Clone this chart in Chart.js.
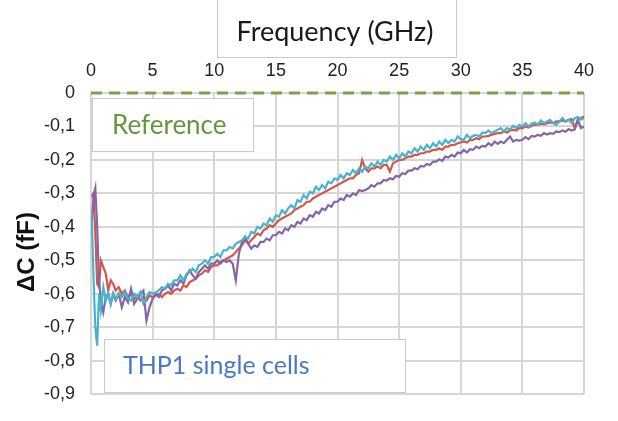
<!DOCTYPE html>
<html>
<head>
<meta charset="utf-8">
<script src="https://cdn.jsdelivr.net/npm/chart.js@4/dist/chart.umd.min.js"></script>
<style>
html,body{margin:0;padding:0;background:#fff;}
#wrap{width:618px;height:421px;position:relative;}
</style>
</head>
<body>
<div id="wrap"><canvas id="c" width="618" height="421"></canvas></div>
<script>
// Frequency (GHz)
const freq = [0.05,0.2,0.35,0.5,0.65,0.8,1.0,1.2,1.4,1.6,1.8,2.0,2.25,2.5,2.75,3.0,3.25,3.5,3.75,4.0,4.25,4.5,4.75,5.0,
  5.25,5.5,5.75,6, 6.25,6.5,6.75,7, 7.25,7.5,7.75,8, 8.25,8.5,8.75,9, 9.25,9.5,9.75,10,
  10.25,10.5,10.75,11, 11.25,11.5,11.75,12, 12.25,12.5,12.75,13, 13.25,13.5,13.75,14, 14.25,14.5,14.75,15,
  15.25,15.5,15.75,16, 16.25,16.5,16.75,17, 17.25,17.5,17.75,18, 18.25,18.5,18.75,19, 19.25,19.5,19.75,20,
  20.25,20.5,20.75,21, 21.25,21.5,21.75,22, 22.25,22.5,22.75,23, 23.25,23.5,23.75,24, 24.25,24.5,24.75,25,
  25.25,25.5,25.75,26, 26.25,26.5,26.75,27, 27.25,27.5,27.75,28, 28.25,28.5,28.75,29, 29.25,29.5,29.75,30,
  30.25,30.5,30.75,31, 31.25,31.5,31.75,32, 32.25,32.5,32.75,33, 33.25,33.5,33.75,34, 34.25,34.5,34.75,35,
  35.25,35.5,35.75,36, 36.25,36.5,36.75,37, 37.25,37.5,37.75,38, 38.25,38.5,38.75,39, 39.25,39.5,39.75,40];

const redSeries = [-0.31,-0.30,-0.42,-0.57,-0.58,-0.50,-0.52,-0.54,-0.59,-0.56,-0.57,-0.59,-0.58,-0.60,-0.59,-0.61,-0.60,-0.615,-0.605,-0.62,-0.61,-0.62,-0.605,-0.61,
  -0.605,-0.60,-0.61,-0.60, -0.595,-0.60,-0.59,-0.585, -0.59,-0.575,-0.58,-0.565, -0.56,-0.555,-0.545,-0.54, -0.53,-0.535,-0.52,-0.515,
  -0.515,-0.505,-0.50,-0.495, -0.49,-0.485,-0.475,-0.465, -0.455,-0.44,-0.45,-0.44, -0.43,-0.42,-0.425,-0.41, -0.405,-0.395,-0.40,-0.39,
  -0.38,-0.375,-0.37,-0.365, -0.36,-0.35,-0.345,-0.34, -0.335,-0.325,-0.325,-0.315, -0.31,-0.305,-0.30,-0.295, -0.29,-0.285,-0.28,-0.275,
  -0.27,-0.265,-0.26,-0.255, -0.255,-0.245,-0.24,-0.20, -0.225,-0.235,-0.225,-0.225, -0.22,-0.225,-0.215,-0.215, -0.235,-0.21,-0.205,-0.20,
  -0.20,-0.195,-0.19,-0.19, -0.185,-0.185,-0.18,-0.18, -0.175,-0.175,-0.17,-0.17, -0.165,-0.17,-0.16,-0.16, -0.155,-0.155,-0.15,-0.148,
  -0.145,-0.148,-0.14,-0.14, -0.135,-0.138,-0.13,-0.13, -0.128,-0.125,-0.122,-0.12, -0.12,-0.115,-0.118,-0.112, -0.11,-0.112,-0.105,-0.105,
  -0.10,-0.103,-0.098,-0.095, -0.095,-0.092,-0.094,-0.09, -0.088,-0.09,-0.085,-0.085, -0.082,-0.085,-0.08,-0.078, -0.105,-0.08,-0.075,-0.07];

const cyanSeries = [-0.36,-0.55,-0.70,-0.755,-0.60,-0.65,-0.58,-0.62,-0.60,-0.63,-0.60,-0.615,-0.60,-0.61,-0.595,-0.615,-0.62,-0.60,-0.61,-0.595,-0.63,-0.61,-0.595,-0.60,
  -0.595,-0.59,-0.58,-0.585, -0.57,-0.575,-0.56,-0.56, -0.545,-0.56,-0.54,-0.535, -0.525,-0.535,-0.515,-0.51, -0.50,-0.51,-0.49,-0.49,
  -0.48,-0.49,-0.47,-0.47, -0.46,-0.465,-0.45,-0.445, -0.44,-0.43,-0.435,-0.415, -0.42,-0.40,-0.405,-0.39, -0.395,-0.375,-0.385,-0.365,
  -0.37,-0.35,-0.36,-0.345, -0.335,-0.345,-0.32,-0.325, -0.305,-0.315,-0.295,-0.30, -0.28,-0.29,-0.275,-0.285, -0.265,-0.27,-0.255,-0.26,
  -0.245,-0.255,-0.24,-0.245, -0.23,-0.24,-0.225,-0.235, -0.22,-0.225,-0.21,-0.22, -0.205,-0.215,-0.20,-0.205, -0.19,-0.20,-0.185,-0.195,
  -0.18,-0.19,-0.175,-0.18, -0.165,-0.175,-0.16,-0.17, -0.155,-0.165,-0.15,-0.16, -0.145,-0.155,-0.14,-0.15, -0.14,-0.145,-0.13,-0.138,
  -0.14,-0.125,-0.135,-0.128, -0.125,-0.13,-0.118,-0.12, -0.112,-0.12,-0.115,-0.11, -0.105,-0.115,-0.105,-0.11, -0.098,-0.105,-0.095,-0.10,
  -0.09,-0.10,-0.092,-0.088, -0.095,-0.082,-0.09,-0.085, -0.08,-0.09,-0.095,-0.085, -0.075,-0.085,-0.08,-0.09, -0.075,-0.072,-0.08,-0.075];

const purpleSeries = [-0.40,-0.31,-0.285,-0.40,-0.56,-0.62,-0.655,-0.61,-0.60,-0.63,-0.60,-0.62,-0.60,-0.64,-0.61,-0.625,-0.585,-0.63,-0.615,-0.60,-0.59,-0.68,-0.64,-0.615,
  -0.60,-0.61,-0.59,-0.585, -0.575,-0.59,-0.57,-0.575, -0.56,-0.57,-0.545,-0.53, -0.545,-0.555,-0.535,-0.525, -0.515,-0.525,-0.51,-0.51,
  -0.50,-0.51,-0.50,-0.505, -0.50,-0.51,-0.56,-0.48, -0.445,-0.43,-0.45,-0.465, -0.455,-0.46,-0.445,-0.445, -0.435,-0.44,-0.425,-0.425,
  -0.415,-0.42,-0.405,-0.41, -0.395,-0.40,-0.385,-0.39, -0.375,-0.38,-0.365,-0.37, -0.355,-0.36,-0.345,-0.35, -0.335,-0.34,-0.325,-0.325,
  -0.315,-0.32,-0.305,-0.31, -0.30,-0.305,-0.29,-0.293, -0.29,-0.285,-0.275,-0.28, -0.27,-0.27,-0.26,-0.262, -0.255,-0.258,-0.248,-0.25,
  -0.24,-0.242,-0.232,-0.232, -0.225,-0.228,-0.218,-0.22, -0.212,-0.215,-0.205,-0.205, -0.198,-0.203,-0.19,-0.193, -0.185,-0.19,-0.178,-0.18,
  -0.17,-0.178,-0.168,-0.17, -0.16,-0.165,-0.158,-0.16, -0.15,-0.157,-0.145,-0.152, -0.145,-0.15,-0.14,-0.13, -0.145,-0.14,-0.142,-0.14,
  -0.132,-0.138,-0.128,-0.13, -0.125,-0.128,-0.12,-0.124, -0.12,-0.122,-0.115,-0.117, -0.112,-0.116,-0.108,-0.112, -0.108,-0.08,-0.105,-0.10];

const referenceX = [0, 40];
const referenceY = [0, 0];

const xTicks = [0,5,10,15,20,25,30,35,40];
const yTicks = [0,-0.1,-0.2,-0.3,-0.4,-0.5,-0.6,-0.7,-0.8,-0.9];

const titleText = 'Frequency (GHz)';
const yTitleText = '\u0394C (fF)';
const refLabel = 'Reference';
const cellLabel = 'THP1 single cells';

const toPts = (xs, ys) => xs.map((x, i) => ({x: x, y: ys[i]}));

const annot = {
  id: 'annot',
  afterDraw(chart) {
    const ctx = chart.ctx;
    ctx.save();
    function box(x, y, w, h) {
      ctx.fillStyle = '#ffffff';
      ctx.fillRect(x, y, w, h);
      ctx.strokeStyle = '#c9c9c9';
      ctx.lineWidth = 1;
      ctx.strokeRect(x + 0.5, y + 0.5, w, h);
    }
    // title box
    box(217, -2, 239, 59);
    ctx.fillStyle = '#1a1a1a';
    ctx.font = '27px Lato';
    ctx.textAlign = 'center';
    ctx.textBaseline = 'middle';
    ctx.fillText(titleText, 335, 32);
    // reference box
    box(92, 98, 161, 53);
    ctx.fillStyle = '#64963f';
    ctx.font = '26px Lato';
    ctx.textAlign = 'left';
    ctx.fillText(refLabel, 112, 126);
    // cells box
    box(104, 339, 301, 53);
    ctx.fillStyle = '#4a78c8';
    ctx.font = '25px Lato';
    ctx.fillText(cellLabel, 123, 366);
    // y title
    ctx.translate(27, 252);
    ctx.rotate(-Math.PI / 2);
    ctx.fillStyle = '#111';
    ctx.font = 'bold 24px "Liberation Sans", Arial';
    ctx.textAlign = 'center';
    ctx.fillText(yTitleText, 0, 0);
    ctx.restore();
  }
};

new Chart(document.getElementById('c'), {
  type: 'line',
  data: {
    datasets: [
      {label: 'cyan', data: toPts(freq, cyanSeries), borderColor: '#48b3cd', borderWidth: 2.2, pointRadius: 0, tension: 0, fill: false},
      {label: 'purple', data: toPts(freq, purpleSeries), borderColor: '#8465a8', borderWidth: 2.2, pointRadius: 0, tension: 0, fill: false},
      {label: 'red', data: toPts(freq, redSeries), borderColor: '#d4574b', borderWidth: 2.2, pointRadius: 0, tension: 0, fill: false},
      {label: 'reference', data: toPts(referenceX, referenceY), borderColor: '#7aa24c', borderWidth: 3, borderDash: [11, 7], pointRadius: 0, fill: false, clip: 10}
    ]
  },
  options: {
    responsive: false,
    animation: false,
    devicePixelRatio: 1,
    layout: {padding: {left: 0, top: 0, right: 34, bottom: 12}},
    plugins: {legend: {display: false}, tooltip: {enabled: false}},
    scales: {
      x: {
        type: 'linear', position: 'top', min: 0, max: 40,
        afterBuildTicks: s => { s.ticks = xTicks.map(v => ({value: v})); },
        afterFit: s => { s.height = 93; },
        ticks: {font: {family: '"Liberation Sans", Arial', size: 18}, color: '#222', padding: 11, maxRotation: 0},
        grid: {color: '#d6d6d6', lineWidth: 2, drawTicks: false},
        border: {display: false}
      },
      y: {
        type: 'linear', min: -0.9, max: 0,
        afterBuildTicks: s => { s.ticks = yTicks.map(v => ({value: v})); },
        afterFit: s => { s.width = 91; },
        ticks: {
          font: {family: '"Liberation Sans", Arial', size: 18}, color: '#222', padding: 16,
          callback: v => { const r = Math.round(v * 10) / 10; return r === 0 ? '0' : r.toFixed(1).replace('.', ','); }
        },
        grid: {color: '#d6d6d6', lineWidth: 2, drawTicks: false},
        border: {display: false}
      }
    }
  },
  plugins: [annot]
});
</script>
</body>
</html>
